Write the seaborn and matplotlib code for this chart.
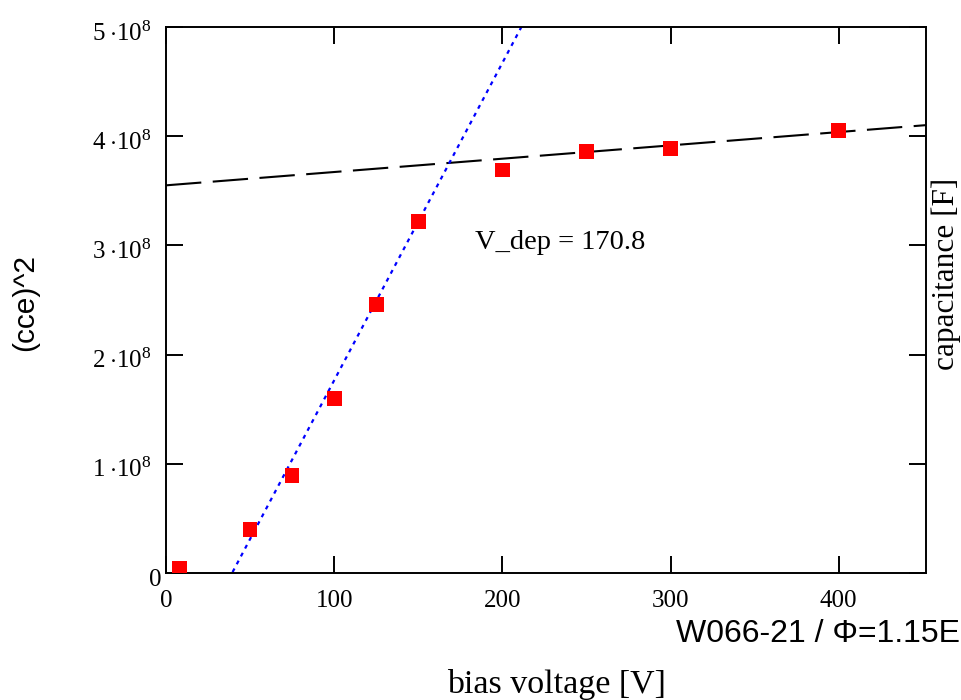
import numpy as np
import pandas as pd
import matplotlib
matplotlib.use("Agg")
import matplotlib.pyplot as plt
import matplotlib.transforms as mtransforms
import seaborn as sns

# ---- data ----
bias_voltage = [8, 50, 75, 100, 125, 150, 200, 250, 300, 400]
cce_squared = [0.04e8, 0.40e8, 0.89e8, 1.60e8, 2.46e8, 3.22e8, 3.69e8, 3.86e8, 3.89e8, 4.05e8]

# linear fits shown on the chart (slope, intercept)
rise_fit = (2.907e6, -1.1425e8)
plateau_fit = (1.22e5, 3.55e8)
v_dep = 170.8

x_ticks = [0, 100, 200, 300, 400]
y_ticks = [0, 1e8, 2e8, 3e8, 4e8, 5e8]
y_tick_labels = ["0"] + [r"$%d\;{\cdot}10^{8}$" % i for i in range(1, 6)]

sns.set_theme(style="ticks")
plt.rcParams["font.family"] = ["Liberation Serif", "DejaVu Serif"]
plt.rcParams["mathtext.fontset"] = "custom"
plt.rcParams["mathtext.rm"] = "Liberation Serif"
plt.rcParams["mathtext.it"] = "Liberation Serif:italic"
plt.rcParams["text.color"] = "black"
plt.rcParams["axes.labelcolor"] = "black"
plt.rcParams["xtick.color"] = "black"
plt.rcParams["ytick.color"] = "black"

W, H = 961, 700
fig = plt.figure(figsize=(W / 100, H / 100), dpi=100)
fig.patch.set_facecolor("white")
L, R, T, B = 166, 925.7, 27, 573
ax = fig.add_axes([L / W, (H - B) / H, (R - L) / W, (B - T) / H])
ax.set_facecolor("white")

xmax = 451.7
ax.set_xlim(0, xmax)
ax.set_ylim(0, 5e8)

# fit lines
xr = np.array([0, xmax])
rise_df = pd.DataFrame({"x": xr, "y": rise_fit[0] * xr + rise_fit[1]})
plat_df = pd.DataFrame({"x": xr, "y": plateau_fit[0] * xr + plateau_fit[1]})
sns.lineplot(data=plat_df, x="x", y="y", ax=ax, color="black", lw=1.5,
             zorder=2)
ax.lines[-1].set_dashes((17, 5.5))
sns.lineplot(data=rise_df, x="x", y="y", ax=ax, color="#0000ff", lw=1.6,
             zorder=2)
ax.lines[-1].set_dashes((1.8, 2.2))

pts = pd.DataFrame({"V": bias_voltage, "cce2": cce_squared})
sns.scatterplot(data=pts, x="V", y="cce2", ax=ax, marker="s", s=112,
                color="#ff0000", edgecolor="none", zorder=3)

ax.text(183.7, 3.03e8, "V_dep = %.1f" % v_dep, fontsize=20.5, va="center",
        ha="left", color="black")

# axes styling
for sp in ax.spines.values():
    sp.set_linewidth(1.4)
    sp.set_color("black")
    sp.set_visible(True)
ax.set_xticks(x_ticks)
ax.set_xticklabels([str(v) for v in x_ticks])
ax.set_yticks(y_ticks)
ax.set_yticklabels(y_tick_labels)
ax.tick_params(axis="both", direction="in", length=12.5, width=1.4,
               labelsize=18, colors="black", top=True, right=True,
               labeltop=False, labelright=False)
ax.tick_params(axis="x", pad=12)
ax.tick_params(axis="y", pad=10)
ax.set_xlabel("")
ax.set_ylabel("")
ax.grid(False)

# nudge y labels slightly down and the "0" label toward the spine
for lab in ax.get_yticklabels():
    dx = 9 / 100 if lab.get_text() == "0" else 0
    lab.set_transform(lab.get_transform() +
                      mtransforms.ScaledTranslation(dx, -4 / 100, fig.dpi_scale_trans))

# labels placed at their reference positions
fig.text(556 / W, 1 - 684 / H, "bias voltage [V]", fontsize=24.5,
         ha="center", va="center")
fig.text(25 / W, 1 - 302 / H, "(cce)^2", fontsize=21.5,
         family=["Liberation Sans", "DejaVu Sans"], rotation=90,
         ha="center", va="center")
fig.text(946 / W, 1 - 274 / H, "capacitance [F]", fontsize=22.5,
         rotation=90, ha="center", va="center")
fig.text(676 / W, 1 - 634 / H, "W066-21 / Φ=1.15E", fontsize=23,
         family=["Liberation Sans", "DejaVu Sans"], ha="left", va="center")

fig.savefig("out.png", dpi=100, facecolor="white")
